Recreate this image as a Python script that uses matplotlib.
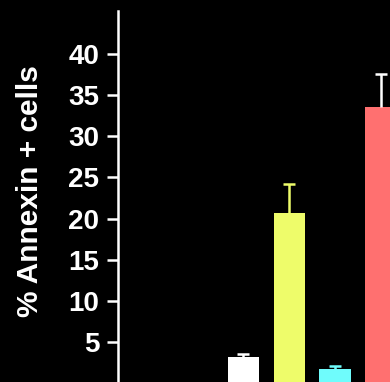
import matplotlib
matplotlib.use("Agg")
import matplotlib.pyplot as plt

# Apoptosis data: mean % Annexin-positive cells with SEM
groups = ["Control", "Treatment A", "Treatment B", "Treatment C"]
means = [3.2, 20.7, 1.75, 33.6]
errors = [0.4, 3.5, 0.35, 4.0]
bar_colors = ["#ffffff", "#eefc6a", "#6ffcfc", "#ff7070"]
err_colors = ["#ffffff", "#eefc6a", "#6ffcfc", "#ffffff"]
yticks = [5, 10, 15, 20, 25, 30, 35, 40]

plt.rcParams["font.family"] = ["Liberation Sans", "DejaVu Sans"]

W, H = 390, 382
fig = plt.figure(figsize=(W / 100, H / 100), dpi=100, facecolor="black")
left_px, top_px, zero_px = 117.5, 11, 383.5
ax = fig.add_axes([left_px / W, 1 - zero_px / H, 1 - left_px / W, (zero_px - top_px) / H])
ax.set_facecolor("black")

x = list(range(len(groups)))
ax.bar(x, means, width=0.68, color=bar_colors, zorder=2)
for xi, m, e, c in zip(x, means, errors, err_colors):
    _, caps, _ = ax.errorbar([xi], [m], yerr=[[0], [e]], fmt="none", ecolor=c,
                             elinewidth=1.8, capsize=4, capthick=1.8, zorder=3)
    # only the upper whisker carries a cap
    caps[0].set_visible(False)

ax.set_xlim(-2.75, 3.2)
ax.set_ylim(0, 45.2)
ax.set_yticks(yticks)
ax.set_yticklabels([str(t) for t in yticks], fontsize=20, fontweight="bold", color="white")
ax.tick_params(axis="y", colors="white", length=8, width=1.8, pad=5)
ax.tick_params(axis="x", bottom=False, labelbottom=False)
for s in ["top", "right", "bottom"]:
    ax.spines[s].set_visible(False)
ax.spines["left"].set_color("white")
ax.spines["left"].set_linewidth(1.8)

fig.text(30 / W, 1 - 191 / H, "% Annexin + cells", rotation=90, ha="center", va="center",
         fontsize=21.5, fontweight="bold", color="white")

fig.savefig("out.png", dpi=100, facecolor="black")
